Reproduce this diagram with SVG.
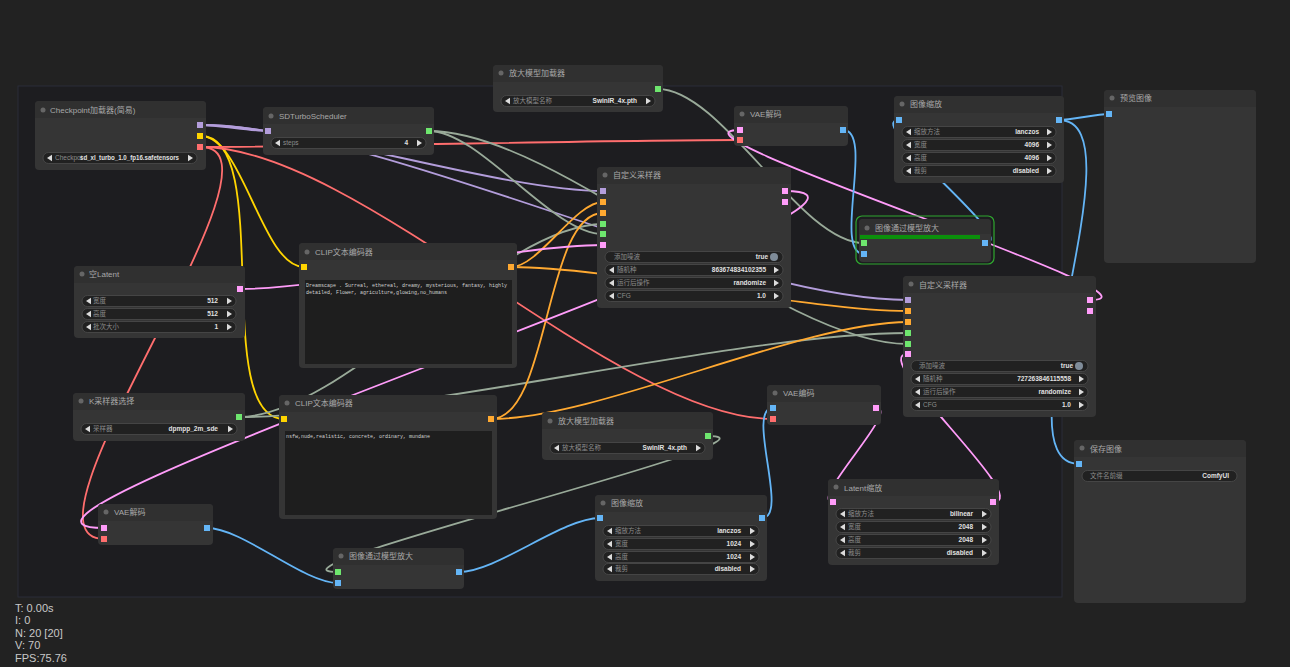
<svg xmlns="http://www.w3.org/2000/svg" width="1290" height="667" viewBox="0 0 1290 667">
<style>
text{font-family:'Liberation Sans','Noto Sans CJK SC',sans-serif}
.nb{fill:#353535}
.tb{fill:#303030}
.tt{font-size:8px;fill:#a8a8a8}
.dot{fill:#666}
.w{fill:#212121;stroke:#4c4c4c;stroke-width:0.8}
.a{fill:#dcdcdc}
.wl{font-size:6.5px;fill:#8c8c8c}
.wv{font-size:6.5px;fill:#e0e0e0;font-weight:bold;text-anchor:end}
.ta{fill:#1e1e1e}
.mono{font-family:'Liberation Mono','Noto Sans CJK SC',monospace;font-size:5px;fill:#d0d0d0}
.L{fill:none;stroke-width:1.8}
.pu{stroke:#b39ddb}.ye{stroke:#ffd500}.re{stroke:#ff6e6e}.gr{stroke:#99aa99}.or{stroke:#ffa931}.pk{stroke:#ff9cf9}.bl{stroke:#64b5f6}
.sp{fill:#b39ddb}.sy{fill:#ffd500}.sr{fill:#ff6e6e}.sg{fill:#6ee66e}.so{fill:#ffa931}.sk{fill:#ff9cf9}.sb{fill:#64b5f6}
.st{font-size:11px;fill:#c8c8c8}
</style>
<rect width="1290" height="667" fill="#222222"/>
<rect x="18" y="86" width="1044" height="511" fill="#1d1d20" stroke="#2a2d38" stroke-width="1"/>

<g id="connectors">
<path class="L pu" d="M201,125 C218,125 251,131 268,131"/>
<path class="L pu" d="M201,125 C303,125 501,191 603,191"/>
<path class="L pu" d="M201,125 C383,125 726,300 908,300"/>
<path class="L ye" d="M201,136 C243,136 262,267 304,267"/>
<path class="L ye" d="M201,136 C275,136 210,419 284,419"/>
<path class="L re" d="M201,147 C336,147 605,140 740,140"/>
<path class="L re" d="M201,147 C302,147 3,539 104,539"/>
<path class="L re" d="M201,147 C359,147 615,419 773,419"/>
<path class="L gr" d="M429,131 C480,131 552,234 603,234"/>
<path class="L gr" d="M429,131 C560,131 777,344 908,344"/>
<path class="L gr" d="M658,89 C722,89 800,243 864,243"/>
<path class="L gr" d="M239,417 C342,417 500,224 603,224"/>
<path class="L gr" d="M239,417 C407,417 740,333 908,333"/>
<path class="L gr" d="M708,436 C807,436 239,572 338,572"/>
<path class="L or" d="M511,267 C539,267 575,202 603,202"/>
<path class="L or" d="M511,267 C611,267 808,311 908,311"/>
<path class="L or" d="M491,419 C550,419 544,213 603,213"/>
<path class="L or" d="M491,419 C598,419 801,322 908,322"/>
<path class="L pk" d="M240,289 C331,289 512,245 603,245"/>
<path class="L pk" d="M785,191 C975,191 -86,528 104,528"/>
<path class="L pk" d="M1090,300 C1187,300 643,130 740,130"/>
<path class="L pk" d="M876,408 C902,408 807,502 833,502"/>
<path class="L pk" d="M993,502 C1036,502 865,354 908,354"/>
<path class="L bl" d="M843,130 C875,130 832,254 864,254"/>
<path class="L bl" d="M985,243 C1023,243 861,120 899,120"/>
<path class="L bl" d="M1059,120 C1072,120 1096,114 1109,114"/>
<path class="L bl" d="M1059,120 C1145,120 993,464 1079,464"/>
<path class="L bl" d="M207,528 C243,528 303,583 338,583"/>
<path class="L bl" d="M459,572 C497,572 562,518 600,518"/>
<path class="L bl" d="M762,518 C790,518 745,408 773,408"/>
</g>

<g id="checkpoint">
<rect class="nb" x="35" y="101" width="171" height="69" rx="4"/>
<rect class="tb" x="35" y="101" width="171" height="17" rx="4"/><rect class="tb" x="35" y="112" width="171" height="6"/>
<circle class="dot" cx="43" cy="110" r="2.5"/>
<text class="tt" x="50" y="113">Checkpoint加载器(简易)</text>
<rect class="sp" x="197" y="122" width="6" height="6"/>
<rect class="sy" x="197" y="133" width="6" height="6"/>
<rect class="sr" x="197" y="144" width="6" height="6"/>
<rect class="w" x="43" y="152.5" width="154" height="11" rx="5.5"/>
<polygon class="a" points="47,158 52,154.8 52,161.2"/>
<text class="wl" x="55" y="160.3">Checkpoi</text>
<text class="wv" x="179" y="160.3" textLength="99" lengthAdjust="spacingAndGlyphs">sd_xl_turbo_1.0_fp16.safetensors</text>
<polygon class="a" points="193,158 188,154.8 188,161.2"/>
</g>

<g id="sdturbo">
<rect class="nb" x="263" y="107" width="171" height="48" rx="4"/>
<rect class="tb" x="263" y="107" width="171" height="17" rx="4"/><rect class="tb" x="263" y="118" width="171" height="6"/>
<circle class="dot" cx="271" cy="116" r="2.5"/>
<text class="tt" x="279" y="119">SDTurboScheduler</text>
<rect class="sp" x="265" y="128" width="6" height="6"/>
<rect class="sg" x="426" y="128" width="6" height="6"/>
<rect class="w" x="271" y="137.5" width="155" height="11" rx="5.5"/>
<polygon class="a" points="275,143 280,139.8 280,146.2"/>
<text class="wl" x="283" y="145.3">steps</text>
<text class="wv" x="408" y="145.3">4</text>
<polygon class="a" points="422,143 417,139.8 417,146.2"/>
</g>

<g id="upscale-loader-top">
<rect class="nb" x="493" y="65" width="170" height="47" rx="4"/>
<rect class="tb" x="493" y="65" width="170" height="17" rx="4"/><rect class="tb" x="493" y="76" width="170" height="6"/>
<circle class="dot" cx="501" cy="73" r="2.5"/>
<text class="tt" x="509" y="76">放大模型加载器</text>
<rect class="sg" x="655" y="86" width="6" height="6"/>
<rect class="w" x="501" y="95.5" width="154" height="11" rx="5.5"/>
<polygon class="a" points="505,101 510,97.8 510,104.2"/>
<text class="wl" x="513" y="103.3">放大模型名称</text>
<text class="wv" x="637" y="103.3">SwinIR_4x.pth</text>
<polygon class="a" points="651,101 646,97.8 646,104.2"/>
</g>

<g id="vae-decode-top">
<rect class="nb" x="734" y="106" width="114" height="40" rx="4"/>
<rect class="tb" x="734" y="106" width="114" height="17" rx="4"/><rect class="tb" x="734" y="117" width="114" height="6"/>
<circle class="dot" cx="742" cy="114" r="2.5"/>
<text class="tt" x="750" y="117">VAE解码</text>
<rect class="sk" x="737" y="127" width="6" height="6"/>
<rect class="sr" x="737" y="137" width="6" height="6"/>
<rect class="sb" x="840" y="127" width="6" height="6"/>
</g>

<g id="sampler-1">
<rect class="nb" x="597" y="167" width="194" height="141" rx="4"/>
<rect class="tb" x="597" y="167" width="194" height="17" rx="4"/><rect class="tb" x="597" y="178" width="194" height="6"/>
<circle class="dot" cx="605" cy="175" r="2.5"/>
<text class="tt" x="613" y="178">自定义采样器</text>
<rect class="sp" x="600" y="188" width="6" height="6"/>
<rect class="so" x="600" y="199" width="6" height="6"/>
<rect class="so" x="600" y="210" width="6" height="6"/>
<rect class="sg" x="600" y="221" width="6" height="6"/>
<rect class="sg" x="600" y="231" width="6" height="6"/>
<rect class="sk" x="600" y="242" width="6" height="6"/>
<rect class="sk" x="782" y="188" width="6" height="6"/>
<rect class="sk" x="782" y="199" width="6" height="6"/>
<rect class="w" x="605" y="251.5" width="178" height="11" rx="5.5"/>
<text class="wl" x="614" y="259.3">添加噪波</text>
<text class="wv" x="768" y="259.3">true</text>
<circle cx="774" cy="257" r="4" fill="#7f8c99"/>
<rect class="w" x="605" y="264.5" width="178" height="11" rx="5.5"/>
<polygon class="a" points="609,270 614,266.8 614,273.2"/>
<text class="wl" x="617" y="272.3">随机种</text>
<text class="wv" x="766" y="272.3">863674834102355</text>
<polygon class="a" points="779,270 774,266.8 774,273.2"/>
<rect class="w" x="605" y="277.5" width="178" height="11" rx="5.5"/>
<polygon class="a" points="609,283 614,279.8 614,286.2"/>
<text class="wl" x="617" y="285.3">运行后操作</text>
<text class="wv" x="766" y="285.3">randomize</text>
<polygon class="a" points="779,283 774,279.8 774,286.2"/>
<rect class="w" x="605" y="290.5" width="178" height="11" rx="5.5"/>
<polygon class="a" points="609,296 614,292.8 614,299.2"/>
<text class="wl" x="617" y="298.3">CFG</text>
<text class="wv" x="766" y="298.3">1.0</text>
<polygon class="a" points="779,296 774,292.8 774,299.2"/>
</g>

<g id="image-scale-top">
<rect class="nb" x="894" y="96" width="170" height="87" rx="4"/>
<rect class="tb" x="894" y="96" width="170" height="17" rx="4"/><rect class="tb" x="894" y="107" width="170" height="6"/>
<circle class="dot" cx="902" cy="104" r="2.5"/>
<text class="tt" x="910" y="107">图像缩放</text>
<rect class="sb" x="896" y="117" width="6" height="6"/>
<rect class="sb" x="1056" y="117" width="6" height="6"/>
<rect class="w" x="902" y="126.5" width="154" height="11" rx="5.5"/>
<polygon class="a" points="906,132 911,128.8 911,135.2"/>
<text class="wl" x="914" y="134.3">缩放方法</text>
<text class="wv" x="1039" y="134.3">lanczos</text>
<polygon class="a" points="1052,132 1047,128.8 1047,135.2"/>
<rect class="w" x="902" y="139.5" width="154" height="11" rx="5.5"/>
<polygon class="a" points="906,145 911,141.8 911,148.2"/>
<text class="wl" x="914" y="147.3">宽度</text>
<text class="wv" x="1039" y="147.3">4096</text>
<polygon class="a" points="1052,145 1047,141.8 1047,148.2"/>
<rect class="w" x="902" y="152.5" width="154" height="11" rx="5.5"/>
<polygon class="a" points="906,158 911,154.8 911,161.2"/>
<text class="wl" x="914" y="160.3">高度</text>
<text class="wv" x="1039" y="160.3">4096</text>
<polygon class="a" points="1052,158 1047,154.8 1047,161.2"/>
<rect class="w" x="902" y="165.5" width="154" height="11" rx="5.5"/>
<polygon class="a" points="906,171 911,167.8 911,174.2"/>
<text class="wl" x="914" y="173.3">裁剪</text>
<text class="wv" x="1039" y="173.3">disabled</text>
<polygon class="a" points="1052,171 1047,167.8 1047,174.2"/>
</g>

<g id="preview">
<rect class="nb" x="1104" y="90" width="152" height="173" rx="4"/>
<rect class="tb" x="1104" y="90" width="152" height="17" rx="4"/><rect class="tb" x="1104" y="101" width="152" height="6"/>
<circle class="dot" cx="1112" cy="98" r="2.5"/>
<text class="tt" x="1120" y="101">预览图像</text>
<rect class="sb" x="1106" y="111" width="6" height="6"/>
</g>

<g id="upscale-top">
<rect x="856" y="216" width="138" height="48" rx="6" fill="none" stroke="#2fa82f" stroke-width="1.2"/>
<rect class="nb" x="859" y="219" width="132" height="43" rx="4"/>
<rect class="tb" x="859" y="219" width="132" height="15" rx="4"/><rect class="tb" x="859" y="228" width="132" height="6"/>
<circle class="dot" cx="867" cy="228" r="2.5"/>
<text class="tt" x="875" y="231">图像通过模型放大</text>
<rect x="860" y="235" width="120" height="4" fill="#0b8f0b"/>
<rect class="sg" x="861" y="240" width="6" height="6"/>
<rect class="sb" x="861" y="251" width="6" height="6"/>
<rect class="sb" x="982" y="240" width="6" height="6"/>
</g>

<g id="sampler-2">
<rect class="nb" x="903" y="276" width="193" height="141" rx="4"/>
<rect class="tb" x="903" y="276" width="193" height="17" rx="4"/><rect class="tb" x="903" y="287" width="193" height="6"/>
<circle class="dot" cx="911" cy="284" r="2.5"/>
<text class="tt" x="919" y="288">自定义采样器</text>
<rect class="sp" x="905" y="297" width="6" height="6"/>
<rect class="so" x="905" y="308" width="6" height="6"/>
<rect class="so" x="905" y="319" width="6" height="6"/>
<rect class="sg" x="905" y="330" width="6" height="6"/>
<rect class="sg" x="905" y="341" width="6" height="6"/>
<rect class="sk" x="905" y="351" width="6" height="6"/>
<rect class="sk" x="1087" y="297" width="6" height="6"/>
<rect class="sk" x="1087" y="308" width="6" height="6"/>
<rect class="w" x="911" y="360.5" width="177" height="11" rx="5.5"/>
<text class="wl" x="919" y="368.3">添加噪波</text>
<text class="wv" x="1073" y="368.3">true</text>
<circle cx="1079" cy="366" r="4" fill="#7f8c99"/>
<rect class="w" x="911" y="373.5" width="177" height="11" rx="5.5"/>
<polygon class="a" points="915,379 920,375.8 920,382.2"/>
<text class="wl" x="923" y="381.3">随机种</text>
<text class="wv" x="1071" y="381.3">727263846115558</text>
<polygon class="a" points="1084,379 1079,375.8 1079,382.2"/>
<rect class="w" x="911" y="386.5" width="177" height="11" rx="5.5"/>
<polygon class="a" points="915,392 920,388.8 920,395.2"/>
<text class="wl" x="923" y="394.3">运行后操作</text>
<text class="wv" x="1071" y="394.3">randomize</text>
<polygon class="a" points="1084,392 1079,388.8 1079,395.2"/>
<rect class="w" x="911" y="399.5" width="177" height="11" rx="5.5"/>
<polygon class="a" points="915,405 920,401.8 920,408.2"/>
<text class="wl" x="923" y="407.3">CFG</text>
<text class="wv" x="1071" y="407.3">1.0</text>
<polygon class="a" points="1084,405 1079,401.8 1079,408.2"/>
</g>

<g id="empty-latent">
<rect class="nb" x="74" y="266" width="171" height="72" rx="4"/>
<rect class="tb" x="74" y="266" width="171" height="17" rx="4"/><rect class="tb" x="74" y="277" width="171" height="6"/>
<circle class="dot" cx="82" cy="274" r="2.5"/>
<text class="tt" x="89" y="277">空Latent</text>
<rect class="sk" x="237" y="286" width="6" height="6"/>
<rect class="w" x="82" y="295.5" width="154" height="11" rx="5.5"/>
<polygon class="a" points="86,301 91,297.8 91,304.2"/>
<text class="wl" x="93" y="303.3">宽度</text>
<text class="wv" x="218" y="303.3">512</text>
<polygon class="a" points="232,301 227,297.8 227,304.2"/>
<rect class="w" x="82" y="308.5" width="154" height="11" rx="5.5"/>
<polygon class="a" points="86,314 91,310.8 91,317.2"/>
<text class="wl" x="93" y="316.3">高度</text>
<text class="wv" x="218" y="316.3">512</text>
<polygon class="a" points="232,314 227,310.8 227,317.2"/>
<rect class="w" x="82" y="321.5" width="154" height="11" rx="5.5"/>
<polygon class="a" points="86,327 91,323.8 91,330.2"/>
<text class="wl" x="93" y="329.3">批次大小</text>
<text class="wv" x="218" y="329.3">1</text>
<polygon class="a" points="232,327 227,323.8 227,330.2"/>
</g>

<g id="clip-positive">
<rect class="nb" x="299" y="243" width="218" height="125" rx="4"/>
<rect class="tb" x="299" y="243" width="218" height="17" rx="4"/><rect class="tb" x="299" y="254" width="218" height="6"/>
<circle class="dot" cx="307" cy="252" r="2.5"/>
<text class="tt" x="315" y="255">CLIP文本编码器</text>
<rect class="sy" x="301" y="264" width="6" height="6"/>
<rect class="so" x="508" y="264" width="6" height="6"/>
<rect class="ta" x="305" y="280" width="207" height="84"/>
<text class="mono" x="306" y="287">Dreamscape . Surreal, ethereal, dreamy, mysterious, fantasy, highly</text>
<text class="mono" x="306" y="294">detailed, Flower, agriculture,glowing,no_humans</text>
</g>

<g id="k-sampler-select">
<rect class="nb" x="73" y="393" width="172" height="48" rx="4"/>
<rect class="tb" x="73" y="393" width="172" height="17" rx="4"/><rect class="tb" x="73" y="404" width="172" height="6"/>
<circle class="dot" cx="81" cy="401" r="2.5"/>
<text class="tt" x="89" y="404">K采样器选择</text>
<rect class="sg" x="236" y="414" width="6" height="6"/>
<rect class="w" x="81" y="423.5" width="156" height="11" rx="5.5"/>
<polygon class="a" points="85,429 90,425.8 90,432.2"/>
<text class="wl" x="93" y="431.3">采样器</text>
<text class="wv" x="218" y="431.3">dpmpp_2m_sde</text>
<polygon class="a" points="233,429 228,425.8 228,432.2"/>
</g>

<g id="clip-negative">
<rect class="nb" x="279" y="395" width="218" height="124" rx="4"/>
<rect class="tb" x="279" y="395" width="218" height="17" rx="4"/><rect class="tb" x="279" y="406" width="218" height="6"/>
<circle class="dot" cx="287" cy="403" r="2.5"/>
<text class="tt" x="295" y="406">CLIP文本编码器</text>
<rect class="sy" x="281" y="416" width="6" height="6"/>
<rect class="so" x="488" y="416" width="6" height="6"/>
<rect class="ta" x="285" y="431" width="207" height="84"/>
<text class="mono" x="286" y="438">nsfw,nude,realistic, concrete, ordinary, mundane</text>
</g>

<g id="vae-decode-bottom">
<rect class="nb" x="98" y="504" width="115" height="41" rx="4"/>
<rect class="tb" x="98" y="504" width="115" height="17" rx="4"/><rect class="tb" x="98" y="515" width="115" height="6"/>
<circle class="dot" cx="106" cy="512" r="2.5"/>
<text class="tt" x="114" y="515">VAE解码</text>
<rect class="sk" x="101" y="525" width="6" height="6"/>
<rect class="sr" x="101" y="536" width="6" height="6"/>
<rect class="sb" x="204" y="525" width="6" height="6"/>
</g>

<g id="upscale-bottom">
<rect class="nb" x="333" y="548" width="131" height="41" rx="4"/>
<rect class="tb" x="333" y="548" width="131" height="17" rx="4"/><rect class="tb" x="333" y="559" width="131" height="6"/>
<circle class="dot" cx="341" cy="556" r="2.5"/>
<text class="tt" x="349" y="559">图像通过模型放大</text>
<rect class="sg" x="335" y="569" width="6" height="6"/>
<rect class="sb" x="335" y="580" width="6" height="6"/>
<rect class="sb" x="456" y="569" width="6" height="6"/>
</g>

<g id="upscale-loader-bottom">
<rect class="nb" x="542" y="412" width="171" height="48" rx="4"/>
<rect class="tb" x="542" y="412" width="171" height="17" rx="4"/><rect class="tb" x="542" y="423" width="171" height="6"/>
<circle class="dot" cx="550" cy="421" r="2.5"/>
<text class="tt" x="558" y="424">放大模型加载器</text>
<rect class="sg" x="705" y="433" width="6" height="6"/>
<rect class="w" x="550" y="442.5" width="155" height="11" rx="5.5"/>
<polygon class="a" points="554,448 559,444.8 559,451.2"/>
<text class="wl" x="562" y="450.3">放大模型名称</text>
<text class="wv" x="687" y="450.3">SwinIR_4x.pth</text>
<polygon class="a" points="701,448 696,444.8 696,451.2"/>
</g>

<g id="image-scale-bottom">
<rect class="nb" x="595" y="495" width="172" height="86" rx="4"/>
<rect class="tb" x="595" y="495" width="172" height="17" rx="4"/><rect class="tb" x="595" y="506" width="172" height="6"/>
<circle class="dot" cx="603" cy="503" r="2.5"/>
<text class="tt" x="611" y="506">图像缩放</text>
<rect class="sb" x="597" y="515" width="6" height="6"/>
<rect class="sb" x="759" y="515" width="6" height="6"/>
<rect class="w" x="603" y="525.5" width="156" height="11" rx="5.5"/>
<polygon class="a" points="607,531 612,527.8 612,534.2"/>
<text class="wl" x="615" y="533.3">缩放方法</text>
<text class="wv" x="741" y="533.3">lanczos</text>
<polygon class="a" points="755,531 750,527.8 750,534.2"/>
<rect class="w" x="603" y="538.5" width="156" height="11" rx="5.5"/>
<polygon class="a" points="607,544 612,540.8 612,547.2"/>
<text class="wl" x="615" y="546.3">宽度</text>
<text class="wv" x="741" y="546.3">1024</text>
<polygon class="a" points="755,544 750,540.8 750,547.2"/>
<rect class="w" x="603" y="551.5" width="156" height="11" rx="5.5"/>
<polygon class="a" points="607,557 612,553.8 612,560.2"/>
<text class="wl" x="615" y="559.3">高度</text>
<text class="wv" x="741" y="559.3">1024</text>
<polygon class="a" points="755,557 750,553.8 750,560.2"/>
<rect class="w" x="603" y="563.5" width="156" height="11" rx="5.5"/>
<polygon class="a" points="607,569 612,565.8 612,572.2"/>
<text class="wl" x="615" y="571.3">裁剪</text>
<text class="wv" x="741" y="571.3">disabled</text>
<polygon class="a" points="755,569 750,565.8 750,572.2"/>
</g>

<g id="vae-encode">
<rect class="nb" x="767" y="385" width="114" height="40" rx="4"/>
<rect class="tb" x="767" y="385" width="114" height="17" rx="4"/><rect class="tb" x="767" y="396" width="114" height="6"/>
<circle class="dot" cx="775" cy="393" r="2.5"/>
<text class="tt" x="783" y="396">VAE编码</text>
<rect class="sb" x="770" y="405" width="6" height="6"/>
<rect class="sr" x="770" y="416" width="6" height="6"/>
<rect class="sk" x="873" y="405" width="6" height="6"/>
</g>

<g id="latent-scale">
<rect class="nb" x="828" y="479" width="171" height="86" rx="4"/>
<rect class="tb" x="828" y="479" width="171" height="17" rx="4"/><rect class="tb" x="828" y="490" width="171" height="6"/>
<circle class="dot" cx="836" cy="487" r="2.5"/>
<text class="tt" x="844" y="491">Latent缩放</text>
<rect class="sk" x="830" y="499" width="6" height="6"/>
<rect class="sk" x="990" y="499" width="6" height="6"/>
<rect class="w" x="836" y="508.5" width="155" height="11" rx="5.5"/>
<polygon class="a" points="840,514 845,510.8 845,517.2"/>
<text class="wl" x="848" y="516.3">缩放方法</text>
<text class="wv" x="973" y="516.3">bilinear</text>
<polygon class="a" points="987,514 982,510.8 982,517.2"/>
<rect class="w" x="836" y="521.5" width="155" height="11" rx="5.5"/>
<polygon class="a" points="840,527 845,523.8 845,530.2"/>
<text class="wl" x="848" y="529.3">宽度</text>
<text class="wv" x="973" y="529.3">2048</text>
<polygon class="a" points="987,527 982,523.8 982,530.2"/>
<rect class="w" x="836" y="534.5" width="155" height="11" rx="5.5"/>
<polygon class="a" points="840,540 845,536.8 845,543.2"/>
<text class="wl" x="848" y="542.3">高度</text>
<text class="wv" x="973" y="542.3">2048</text>
<polygon class="a" points="987,540 982,536.8 982,543.2"/>
<rect class="w" x="836" y="547.5" width="155" height="11" rx="5.5"/>
<polygon class="a" points="840,553 845,549.8 845,556.2"/>
<text class="wl" x="848" y="555.3">裁剪</text>
<text class="wv" x="973" y="555.3">disabled</text>
<polygon class="a" points="987,553 982,549.8 982,556.2"/>
</g>

<g id="save-image">
<rect class="nb" x="1074" y="440" width="172" height="163" rx="4"/>
<rect class="tb" x="1074" y="440" width="172" height="17" rx="4"/><rect class="tb" x="1074" y="451" width="172" height="6"/>
<circle class="dot" cx="1082" cy="448" r="2.5"/>
<text class="tt" x="1090" y="452">保存图像</text>
<rect class="sb" x="1076" y="461" width="6" height="6"/>
<rect class="w" x="1082" y="470.5" width="155" height="11" rx="5.5"/>
<text class="wl" x="1090" y="478.3">文件名前缀</text>
<text class="wv" x="1229" y="478.3">ComfyUI</text>
</g>

<g id="stats">
<text class="st" x="15" y="612">T: 0.00s</text>
<text class="st" x="15" y="624">I: 0</text>
<text class="st" x="15" y="637">N: 20 [20]</text>
<text class="st" x="15" y="649">V: 70</text>
<text class="st" x="15" y="662">FPS:75.76</text>
</g>
</svg>
